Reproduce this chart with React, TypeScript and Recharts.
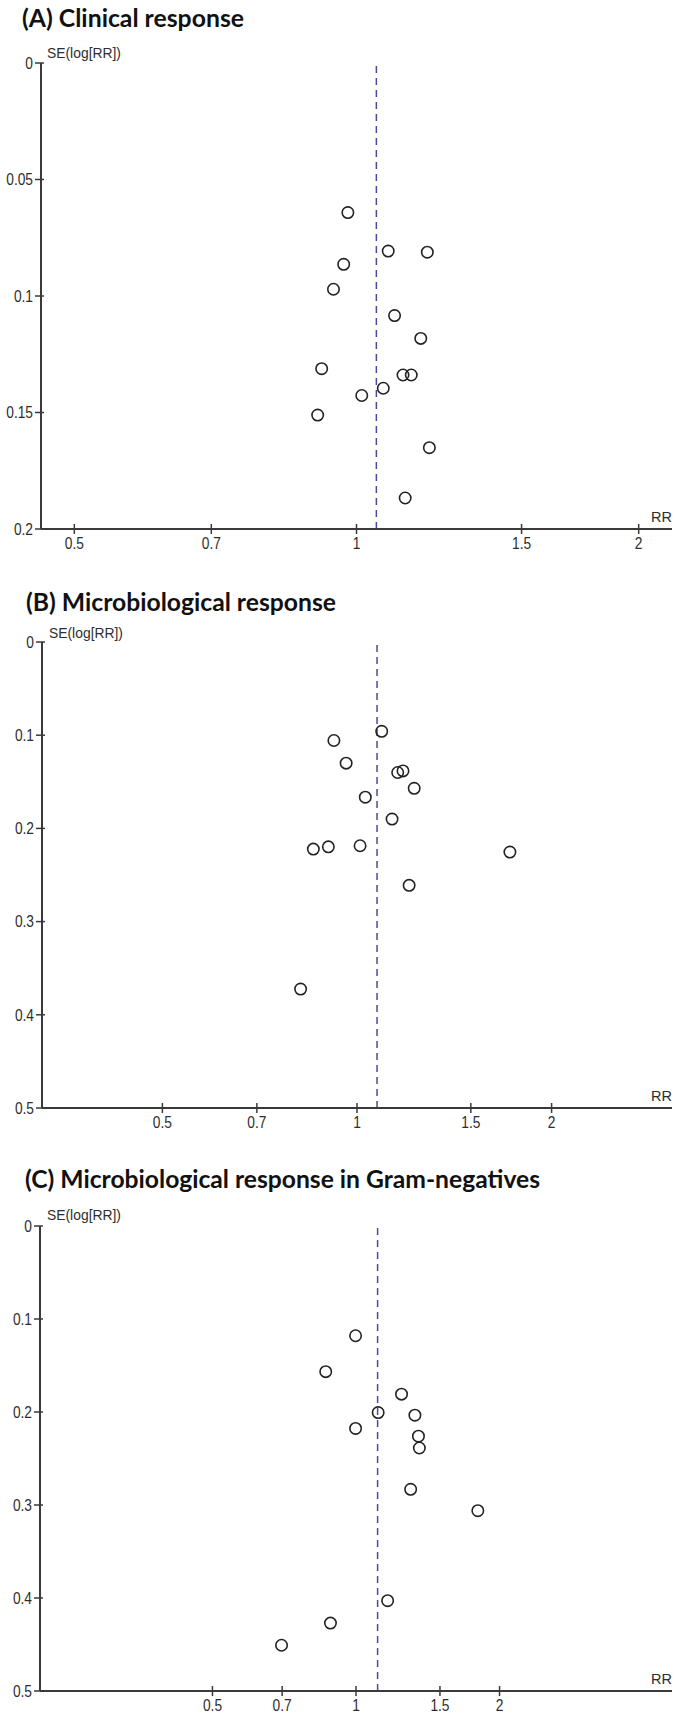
import React from 'react';
import { ScatterChart, Scatter, XAxis, YAxis, ReferenceLine } from 'recharts';

// Tick labels
const rrTicks = [0.5, 0.7, 1, 1.5, 2];
const seTicksA = [0, 0.05, 0.1, 0.15, 0.2];
const seTicksBC = [0, 0.1, 0.2, 0.3, 0.4, 0.5];

// Panel titles
const titleA = '(A) Clinical response';
const titleB = '(B) Microbiological response';
const titleC = '(C) Microbiological response in Gram-negatives';
const yLabel = 'SE(log[RR])';
const xLabel = 'RR';

// (A) Clinical response
const rrA = [0.979, 1.081, 1.19, 0.969, 0.945, 1.098, 1.171, 0.918, 1.121, 1.144, 1.068, 1.013, 0.909, 1.196, 1.127];
const seA = [0.0642, 0.0807, 0.0812, 0.0864, 0.0971, 0.1084, 0.1182, 0.1312, 0.1339, 0.1339, 0.1396, 0.1427, 0.1511, 0.1651, 0.1867];
const pooledA = 1.05;

// (B) Microbiological response
const rrB = [1.092, 0.921, 0.962, 1.156, 1.178, 1.226, 1.03, 1.133, 0.856, 0.903, 1.011, 1.724, 1.204, 0.818];
const seB = [0.0958, 0.1057, 0.13, 0.14, 0.1383, 0.157, 0.1665, 0.19, 0.2222, 0.2198, 0.2186, 0.2254, 0.2611, 0.3724];
const pooledB = 1.074;

// (C) Microbiological response in Gram-negatives
const rrC = [0.998, 0.864, 1.246, 1.113, 1.329, 0.998, 1.352, 1.358, 1.302, 1.801, 1.165, 0.884, 0.698];
const seC = [0.118, 0.1566, 0.1808, 0.2006, 0.2034, 0.2177, 0.226, 0.2387, 0.2831, 0.3061, 0.4029, 0.427, 0.4508];
const pooledC = 1.11;

const AXIS = '#3a3a3a';
const TXT = '#2e2e2e';
const FONT = '"Liberation Sans", Arial, sans-serif';

const YTick = (props: any) => {
  const { x, y, payload } = props;
  return (
    <g>
      <line x1={x - 6} x2={x + 3} y1={y} y2={y} stroke={AXIS} strokeWidth={1.5} />
      <text
        transform={`translate(${x - 8},${y}) scale(0.86,1)`}
        textAnchor="end"
        dominantBaseline="central"
        fontSize={16}
        fill={TXT}
        fontFamily={FONT}
      >
        {String(payload.value)}
      </text>
    </g>
  );
};

const XTick = (props: any) => {
  const { x, y, payload } = props;
  return (
    <g>
      <line x1={x} x2={x} y1={y - 5} y2={y + 5} stroke={AXIS} strokeWidth={1.5} />
      <text
        transform={`translate(${x},${y + 14}) scale(0.86,1)`}
        textAnchor="middle"
        dominantBaseline="central"
        fontSize={16}
        fill={TXT}
        fontFamily={FONT}
      >
        {String(payload.value)}
      </text>
    </g>
  );
};

const Ring = (props: any) => {
  const { cx, cy } = props;
  return <circle cx={cx} cy={cy} r={5.7} fill="none" stroke="#222" strokeWidth={1.6} />;
};

type PanelProps = {
  rr: number[];
  se: number[];
  pooled: number;
  plotTop: number;
  plotBottom: number;
  plotLeft: number;
  halfRange: number; // in log units
  seMax: number;
  seTicks: number[];
};

const Panel = ({ rr, se, pooled, plotTop, plotBottom, plotLeft, halfRange, seMax, seTicks }: PanelProps) => {
  const data = rr.map((v, i) => ({ rr: v, se: se[i] }));
  const mTop = 12;
  const xH = 32;
  const h = plotBottom - plotTop + mTop + xH;
  const lo = Math.exp(-halfRange);
  const hi = Math.exp(halfRange);
  return (
    <div style={{ position: 'absolute', left: 0, top: plotTop - mTop, width: 680, height: h }}>
      <ScatterChart width={680} height={h} margin={{ top: mTop, right: 8, bottom: 0, left: 0 }}>
        <XAxis
          type="number"
          dataKey="rr"
          scale="log"
          domain={[lo, hi]}
          allowDataOverflow
          ticks={rrTicks}
          interval={0}
          height={xH}
          tickSize={0}
          tickMargin={0}
          tickLine={false}
          axisLine={{ stroke: AXIS, strokeWidth: 2 }}
          tick={<XTick />}
        />
        <YAxis
          type="number"
          dataKey="se"
          domain={[0, seMax]}
          reversed
          allowDataOverflow
          ticks={seTicks}
          interval={0}
          width={plotLeft}
          tickSize={0}
          tickMargin={0}
          tickLine={false}
          axisLine={{ stroke: AXIS, strokeWidth: 2 }}
          tick={<YTick />}
        />
        <ReferenceLine x={pooled} stroke="#4a4a9e" strokeWidth={1.5} strokeDasharray="7 5" />
        <Scatter data={data} shape={<Ring />} isAnimationActive={false} />
      </ScatterChart>
    </div>
  );
};

const titleStyle = { fontFamily: 'Lato, "Open Sans", sans-serif', fontWeight: 700, fontSize: 24, fill: '#111' } as const;

export default function App() {
  return (
    <div style={{ position: 'relative', width: 680, height: 1719, background: '#fff', overflow: 'hidden' }}>
      <style>{'body{margin:0;}'}</style>
      <Panel rr={rrA} se={seA} pooled={pooledA} plotTop={63} plotBottom={529} plotLeft={41} halfRange={0.775} seMax={0.2} seTicks={seTicksA} />
      <Panel rr={rrB} se={seB} pooled={pooledB} plotTop={642} plotBottom={1108} plotLeft={42} halfRange={1.122} seMax={0.5} seTicks={seTicksBC} />
      <Panel rr={rrC} se={seC} pooled={pooledC} plotTop={1226} plotBottom={1691} plotLeft={40} halfRange={1.526} seMax={0.5} seTicks={seTicksBC} />
      <svg width={680} height={1719} style={{ position: 'absolute', left: 0, top: 0, pointerEvents: 'none' }}>
        <text x={22} y={27} textLength={222} lengthAdjust="spacingAndGlyphs" {...titleStyle}>{titleA}</text>
        <text x={26} y={611} textLength={310} lengthAdjust="spacingAndGlyphs" {...titleStyle}>{titleB}</text>
        <text x={25} y={1188} textLength={515} lengthAdjust="spacingAndGlyphs" {...titleStyle}>{titleC}</text>

        <text x={47} y={58} textLength={74} lengthAdjust="spacingAndGlyphs" fontSize={15} fill={TXT} fontFamily={FONT}>{yLabel}</text>
        <text x={49} y={638} textLength={74} lengthAdjust="spacingAndGlyphs" fontSize={15} fill={TXT} fontFamily={FONT}>{yLabel}</text>
        <text x={47} y={1220} textLength={74} lengthAdjust="spacingAndGlyphs" fontSize={15} fill={TXT} fontFamily={FONT}>{yLabel}</text>

        <text x={672} y={522} textAnchor="end" fontSize={14.5} fill={TXT} fontFamily={FONT}>{xLabel}</text>
        <text x={672} y={1101} textAnchor="end" fontSize={14.5} fill={TXT} fontFamily={FONT}>{xLabel}</text>
        <text x={672} y={1684} textAnchor="end" fontSize={14.5} fill={TXT} fontFamily={FONT}>{xLabel}</text>
      </svg>
    </div>
  );
}
